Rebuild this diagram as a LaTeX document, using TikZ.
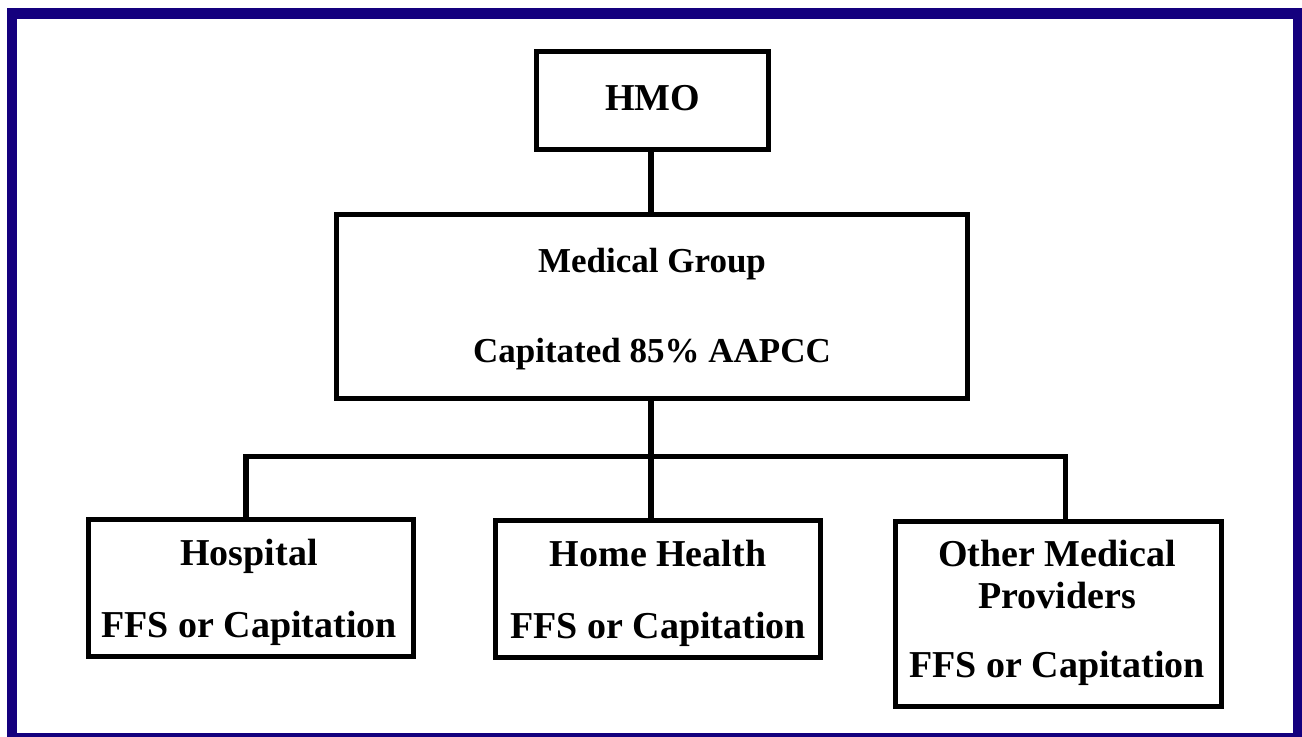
\documentclass[tikz,border=0pt]{standalone}
\usepackage{fontspec}
\setmainfont{Liberation Serif}
\definecolor{framenavy}{RGB}{20,0,126}
\begin{document}
\begin{tikzpicture}[x=0.5pt,y=-0.5pt,
  box/.style={draw=black,line width=2.5pt,inner sep=0pt,fill=white},
  wire/.style={draw=black,line width=2.6pt,line join=miter},
  lbl/.style={inner sep=0pt,anchor=base,font=\fontsize{19}{22}\selectfont\bfseries},
  mglbl/.style={lbl,font=\fontsize{17.5}{20}\selectfont\bfseries}]
\useasboundingbox (0,0) rectangle (1302,736);
\fill[white] (0,0) rectangle (1302,736);

% outer frame
\draw[framenavy,line width=5.25pt] (12,13.5) rectangle (1298,738);

% boxes
\node[box,minimum width=116pt,minimum height=49pt] (hmo) at (652.5,100.5) {};
\node[box,minimum width=315.5pt,minimum height=92pt] (mg) at (652,306.5) {};
\node[box,minimum width=162.5pt,minimum height=68.5pt] (hosp) at (251,588) {};
\node[box,minimum width=162.5pt,minimum height=68.5pt] (home) at (658,589) {};
\node[box,minimum width=163pt,minimum height=92.5pt] (oth) at (1058.5,614) {};

% connectors
\coordinate (busL) at (246,456.5);
\coordinate (busR) at (1065.5,456.5);
\coordinate (busM) at (651,456.5);
\draw[wire] (hmo.south -| busM) -- (busM |- mg.north);
\draw[wire] (mg.south -| busM) -- (busM |- home.north);
\draw[wire] (busL |- hosp.north) -- (busL) -- (busR) -- (busR |- oth.north);

% labels
\node[lbl] (hmo-t) at (652.5,110) {HMO};
\node[mglbl] (mg-t1) at (652,272) {Medical Group};
\node[mglbl] (mg-t2) at (652,362) {Capitated 85\% AAPCC};
\node[lbl] (hosp-t1) at (249,565) {Hospital};
\node[lbl] (hosp-t2) at (249,637) {FFS or Capitation};
\node[lbl] (home-t1) at (658,566) {Home Health};
\node[lbl] (home-t2) at (658,638) {FFS or Capitation};
\node[lbl] (oth-t1) at (1057,566) {Other Medical};
\node[lbl] (oth-t2) at (1057,608) {Providers};
\node[lbl] (oth-t3) at (1057,677) {FFS or Capitation};
\end{tikzpicture}
\end{document}
